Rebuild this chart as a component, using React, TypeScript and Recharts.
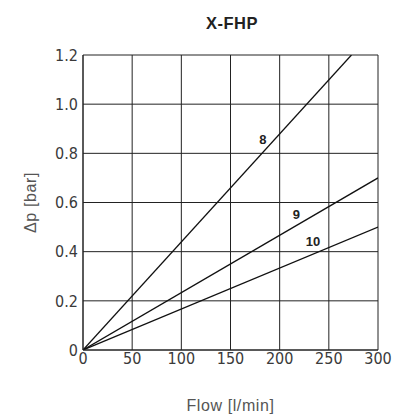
import { LineChart, Line, XAxis, YAxis, CartesianGrid, ReferenceDot, Label } from 'recharts';

// curve endpoints (straight lines from origin)
const flow8 = [0, 273];
const dp8 = [0, 1.2];
const flow9 = [0, 300];
const dp9 = [0, 0.7];
const flow10 = [0, 300];
const dp10 = [0, 0.5];

const xTicks = [0, 50, 100, 150, 200, 250, 300];
const yTicks = [0, 0.2, 0.4, 0.6, 0.8, 1.0, 1.2];

const curveNames = ['8', '9', '10'];
const labelFlow = [183, 217, 234];
const labelDp = [0.855, 0.55, 0.44];

const toPoints = (xs: number[], ys: number[]) => xs.map((x, i) => ({ flow: x, dp: ys[i] }));

const series = [toPoints(flow8, dp8), toPoints(flow9, dp9), toPoints(flow10, dp10)];

const tickFont = { fontFamily: 'DejaVu Sans Condensed', fontSize: 16, fill: '#3a3a3a' };
const axisTitle = { fontFamily: 'Liberation Sans, Arial', fontSize: 16, letterSpacing: 0.6, fill: '#555' };

export default function App() {
  return (
    <div style={{ position: 'absolute', left: 0, top: 0, width: 396, height: 419, background: '#fff' }}>
      <LineChart width={396} height={419} margin={{ top: 55, right: 18, bottom: 0, left: 0 }}>
        <text x={232} y={29} textAnchor="middle" style={{ fontFamily: 'Liberation Sans, Arial', fontWeight: 700, fontSize: 16.5, letterSpacing: 0.5, fill: '#222' }}>
          X-FHP
        </text>
        <CartesianGrid stroke="#222" strokeWidth={1} horizontalValues={yTicks} verticalValues={xTicks} />
        <XAxis
          type="number"
          dataKey="flow"
          domain={[0, 300]}
          ticks={xTicks}
          height={69}
          tick={tickFont}
          tickLine={false}
          tickSize={1}
          axisLine={{ stroke: '#222' }}
          allowDataOverflow
        >
          <Label value="Flow [l/min]" position="insideBottom" offset={8} style={axisTitle} />
        </XAxis>
        <YAxis
          type="number"
          dataKey="dp"
          domain={[0, 1.2]}
          ticks={yTicks}
          width={83}
          tick={tickFont}
          tickLine={false}
          tickSize={3}
          tickFormatter={(v: number) => (v === 0 ? '0' : v.toFixed(1))}
          axisLine={{ stroke: '#222' }}
          allowDataOverflow
        >
          <Label value="Δp [bar]" angle={-90} position="insideLeft" offset={30} style={{ ...axisTitle, textAnchor: 'middle' }} />
        </YAxis>
        {series.map((d, i) => (
          <Line
            key={curveNames[i]}
            data={d}
            dataKey="dp"
            type="linear"
            stroke="#111"
            strokeWidth={1.3}
            dot={false}
            isAnimationActive={false}
          />
        ))}
        {curveNames.map((n, i) => (
          <ReferenceDot key={'l' + n} x={labelFlow[i]} y={labelDp[i]} r={0} stroke="none" fill="none">
            <Label value={n} position="center" style={{ fontFamily: 'Liberation Sans, Arial', fontWeight: 700, fontSize: 13, fill: '#222' }} />
          </ReferenceDot>
        ))}
      </LineChart>
    </div>
  );
}
